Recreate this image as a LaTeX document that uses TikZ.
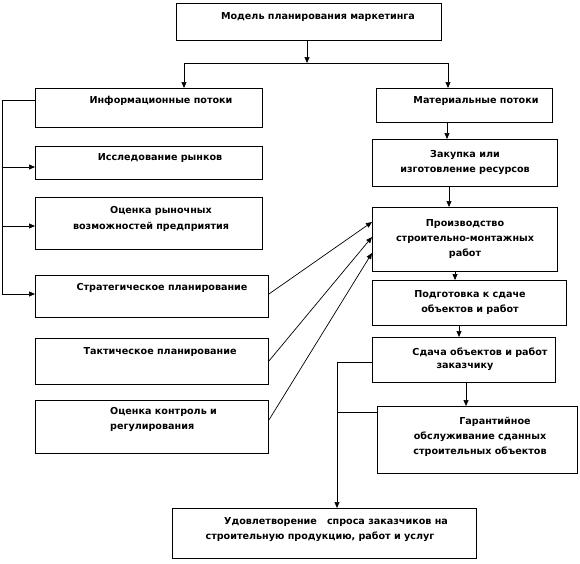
\documentclass[tikz,border=0pt]{standalone}
\usepackage{fontspec}
\setmainfont{DejaVu Sans}
\usetikzlibrary{arrows.meta}
\begin{document}
\begin{tikzpicture}[x=1pt,y=-1pt,
  box/.style={draw,line width=0.9pt,inner sep=0pt,anchor=north west},
  txt/.style={inner sep=0pt,font=\bfseries\fontsize{9.6}{15}\selectfont,align=center},
  link/.style={line width=0.7pt},
  arr/.style={line width=0.7pt,-{Triangle[length=6pt,width=5pt]}}]
\useasboundingbox (0,0) rectangle (580,563);
% boxes
\node[box,minimum width=265pt,minimum height=37pt] (top) at (176,3) {};
\node[box,minimum width=227pt,minimum height=39pt] (info) at (35,88) {};
\node[box,minimum width=176pt,minimum height=34pt] (mat) at (376,88) {};
\node[box,minimum width=227pt,minimum height=33pt] (issl) at (35,146) {};
\node[box,minimum width=227pt,minimum height=52pt] (ocr) at (35,197) {};
\node[box,minimum width=233pt,minimum height=42pt] (strat) at (35,275) {};
\node[box,minimum width=233pt,minimum height=46pt] (takt) at (35,338) {};
\node[box,minimum width=233pt,minimum height=53pt] (ock) at (35,400) {};
\node[box,minimum width=185pt,minimum height=47pt] (zak) at (372,139) {};
\node[box,minimum width=185pt,minimum height=64pt] (proiz) at (372,207) {};
\node[box,minimum width=194pt,minimum height=45pt] (podg) at (372,280) {};
\node[box,minimum width=183pt,minimum height=45pt] (sdacha) at (372,337) {};
\node[box,minimum width=200pt,minimum height=67pt] (gar) at (377,406) {};
\node[box,minimum width=304pt,minimum height=50pt] (udov) at (172,508) {};
% texts
\node[txt] (t-top) at (318,17) {Модель планирования маркетинга};
\node[txt] (t-info) at (161,101) {Информационные потоки};
\node[txt] (t-mat) at (476,101) {Материальные потоки};
\node[txt] (t-issl) at (160,158) {Исследование рынков};
\node[txt] (t-ocr1) at (161,211) {Оценка рыночных};
\node[txt] (t-ocr2) at (151,227) {возможностей предприятия};
\node[txt] (t-strat) at (162,288) {Стратегическое планирование};
\node[txt] (t-takt) at (160,352) {Тактическое планирование};
\node[txt,anchor=north west,align=left] (t-ock) at (110,407) {Оценка контроль и\\регулирования};
\node[txt] (t-zak) at (465,162) {Закупка или\\изготовление ресурсов};
\node[txt] (t-proiz) at (465,239) {Производство\\строительно-монтажных\\работ};
\node[txt] (t-podg) at (470,302) {Подготовка к сдаче\\объектов и работ};
\node[txt] (t-sd1) at (480,353) {Сдача объектов и работ};
\node[txt] (t-sd2) at (465,367) {заказчику};
\node[txt] (t-gar) at (480,437) {\hspace*{30pt}Гарантийное\\обслуживание сданных\\строительных объектов};
\node[txt] (t-ud1) at (336,522) {Удовлетворение\ \ \ спроса заказчиков на};
\node[txt] (t-ud2) at (320,537) {строительную продукцию, работ и услуг};
% coordinates
\coordinate (hl) at (184,63);
\coordinate (hr) at (448,63);
\coordinate (lv1) at (2,100);
\coordinate (lv2) at (2,294);
\coordinate (rv1) at (337,362);
\coordinate (rv2) at (337,412);
% connectors
\draw[arr] (top.south -| 307,0) -- (307,63);
\draw[link] (hl) -- (hr);
\draw[arr] (hl) -- (info.north -| hl);
\draw[arr] (hr) -- (mat.north -| hr);
\draw[link] (info.west |- lv1) -- (lv1) -- (lv2);
\draw[arr] (2,167) -- (issl.west |- 0,167);
\draw[arr] (2,226) -- (ocr.west |- 0,226);
\draw[arr] (lv2) -- (strat.west |- lv2);
\draw[arr] (mat.south -| 447,0) -- (zak.north -| 447,0);
\draw[arr] (zak.south -| 449,0) -- (proiz.north -| 449,0);
\draw[arr] (proiz.south -| 455,0) -- (podg.north -| 455,0);
\draw[arr] (podg.south -| 459,0) -- (sdacha.north -| 459,0);
\draw[arr] (sdacha.south -| 466,0) -- (gar.north -| 466,0);
\draw[link] (sdacha.west |- rv1) -- (rv1);
\draw[link] (gar.west |- rv2) -- (rv2);
\draw[arr] (rv1) -- (udov.north -| rv1);
\draw[arr] (strat.east |- 0,294) -- (proiz.west |- 0,222);
\draw[arr] (takt.east |- 0,361) -- (proiz.west |- 0,237);
\draw[arr] (ock.east |- 0,420) -- (proiz.west |- 0,253);
\end{tikzpicture}
\end{document}
